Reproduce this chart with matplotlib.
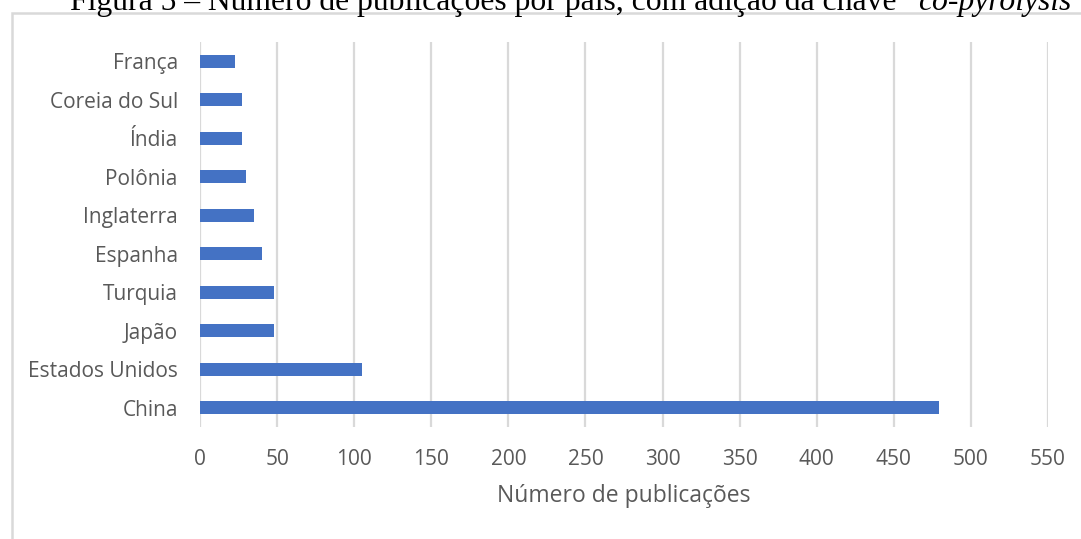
import matplotlib
matplotlib.use('Agg')
import matplotlib.pyplot as plt
from matplotlib.patches import Rectangle

countries = ["China", "Estados Unidos", "Japão", "Turquia", "Espanha",
             "Inglaterra", "Polônia", "Índia", "Coreia do Sul", "França"]
publications = [479, 105, 48, 48, 40, 35, 30, 27, 27, 23]
xticks = list(range(0, 551, 50))
title_main = "Figura 5 – Número de publicações por país, com adição da chave \u201c"
title_italic = "co-pyrolysis\u201d"
xlabel = "Número de publicações"

W, H = 1081, 539
fig = plt.figure(figsize=(W / 100, H / 100), dpi=100)
plt.rcParams['font.family'] = ['Open Sans', 'DejaVu Sans']

# chart border
fig.patches.append(Rectangle((12 / W, -0.1), 1.2, 1 - 13 / H + 0.1,
                             transform=fig.transFigure, fill=False,
                             edgecolor='#d9d9d9', linewidth=1.8))

ax = fig.add_axes([200 / W, 1 - 427 / H, 848 / W, 385 / H])
ax.barh(range(len(countries)), publications, height=0.34, color='#4472C4', zorder=3)
ax.set_xlim(0, 550)
ax.set_ylim(-0.5, len(countries) - 0.5)
ax.set_xticks(xticks)
ax.set_yticks(range(len(countries)), countries)
ax.grid(axis='x', color='#d9d9d9', linewidth=1.6, zorder=0)
ax.set_axisbelow(True)
for s in ax.spines.values():
    s.set_visible(False)
ax.tick_params(axis='both', length=0, colors='#595959', labelsize=15)
ax.tick_params(axis='y', pad=16)
ax.tick_params(axis='x', pad=16)
ax.set_xlabel(xlabel, color='#595959', fontsize=16.5, labelpad=10)

# title (cut off at top)
t1 = fig.text(70 / W, 1 - 10 / H, title_main, family='Liberation Serif',
              fontsize=22.8, va='baseline', ha='left', color='black')
fig.canvas.draw()
bb = t1.get_window_extent()
fig.text(bb.x1 / W, 1 - 10 / H, title_italic, family='Liberation Serif',
         style='italic', fontsize=22.8, va='baseline', ha='left', color='black')

fig.savefig('out.png', dpi=100)
